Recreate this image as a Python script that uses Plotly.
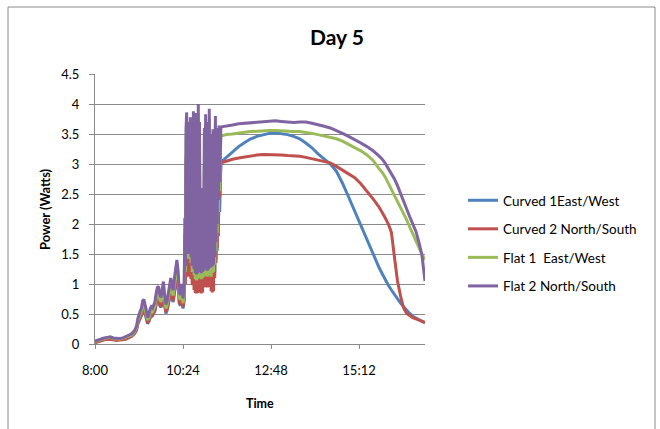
import plotly.graph_objects as go

# Sample times (HH:MM)
TIMES = [
    "08:00", "08:05", "08:10", "08:15", "08:20", "08:25", "08:30", "08:35", "08:40", "08:45",
    "08:50", "08:55", "09:00", "09:05",
    "09:08", "09:10", "09:12", "09:14", "09:16", "09:18", "09:20", "09:22", "09:24", "09:26",
    "09:28", "09:30", "09:32", "09:34", "09:36", "09:38", "09:40", "09:42", "09:44", "09:46",
    "09:48", "09:50", "09:52", "09:54", "09:56", "09:58", "10:00", "10:02", "10:04", "10:06",
    "10:08", "10:10", "10:12", "10:14", "10:16", "10:18", "10:20", "10:22", "10:24", "10:26",
    "10:27", "10:28", "10:29", "10:30", "10:31", "10:32", "10:33", "10:34", "10:35", "10:36",
    "10:37", "10:38", "10:39", "10:40", "10:41", "10:42", "10:43", "10:44", "10:45", "10:46",
    "10:47", "10:48", "10:49", "10:50", "10:51", "10:52", "10:53", "10:54", "10:55", "10:56",
    "10:57", "10:58", "10:59", "11:00", "11:01", "11:02", "11:03", "11:04", "11:05", "11:06",
    "11:07", "11:08", "11:09", "11:10", "11:11", "11:12", "11:13", "11:14", "11:15", "11:16",
    "11:17", "11:18", "11:19", "11:20", "11:21", "11:22", "11:23", "11:24", "11:25", "11:26",
    "11:27", "11:35", "11:45", "11:55", "12:05", "12:15", "12:25", "12:35", "12:45", "12:55",
    "13:05", "13:15", "13:25", "13:35", "13:45", "13:55", "14:05", "14:15", "14:25", "14:35",
    "14:45", "14:55", "15:05", "15:15", "15:25", "15:35", "15:45", "15:50", "15:55", "16:00",
    "16:05", "16:10", "16:15", "16:20", "16:25", "16:30", "16:35", "16:40", "16:45", "16:50",
    "16:55", "17:00",
]

CURVED_1_EW = [
    0.03, 0.05, 0.07, 0.08, 0.09, 0.09, 0.08, 0.07, 0.07, 0.08,
    0.09, 0.11, 0.13, 0.18,
    0.23, 0.33, 0.39, 0.43, 0.47, 0.56, 0.58, 0.51, 0.44, 0.34,
    0.37, 0.45, 0.48, 0.47, 0.51, 0.55, 0.66, 0.73, 0.75, 0.64,
    0.61, 0.75, 0.81, 0.64, 0.51, 0.56, 0.67, 0.80, 0.86, 0.75,
    0.70, 0.86, 0.97, 1.09, 0.95, 0.67, 0.64, 0.78, 0.59, 0.74,
    1.65, 1.10, 3.00, 3.22, 1.30, 3.08, 1.28, 2.92, 1.30, 3.16,
    1.22, 2.67, 1.10, 3.12, 3.24, 1.05, 2.84, 1.00, 3.20, 0.98,
    3.00, 1.00, 3.34, 1.02, 3.08, 1.02, 2.16, 1.00, 2.12, 1.02,
    2.16, 1.04, 3.00, 1.06, 3.20, 1.07, 2.75, 1.05, 3.08, 1.07,
    3.27, 1.08, 2.92, 1.06, 2.42, 1.10, 2.98, 1.12, 2.67, 1.20,
    3.16, 1.40, 2.84, 1.55, 3.00, 1.80, 3.02, 2.20, 2.92, 3.02,
    3.04, 3.11, 3.20, 3.29, 3.36, 3.42, 3.46, 3.49, 3.51, 3.52,
    3.51, 3.49, 3.46, 3.42, 3.35, 3.27, 3.17, 3.09, 3.00, 2.88,
    2.68, 2.45, 2.21, 1.97, 1.73, 1.49, 1.27, 1.17, 1.07, 0.98,
    0.90, 0.82, 0.75, 0.68, 0.62, 0.56, 0.51, 0.46, 0.43, 0.40,
    0.37, 0.35,
]

CURVED_2_NS = [
    0.02, 0.04, 0.06, 0.07, 0.08, 0.08, 0.07, 0.06, 0.06, 0.07,
    0.08, 0.10, 0.13, 0.18,
    0.24, 0.34, 0.40, 0.44, 0.48, 0.58, 0.59, 0.53, 0.45, 0.35,
    0.38, 0.46, 0.50, 0.48, 0.53, 0.56, 0.67, 0.75, 0.77, 0.66,
    0.62, 0.77, 0.83, 0.66, 0.53, 0.58, 0.69, 0.82, 0.88, 0.77,
    0.72, 0.88, 1.00, 1.12, 0.98, 0.69, 0.66, 0.80, 0.61, 0.76,
    1.70, 1.00, 3.02, 3.24, 1.14, 3.10, 1.12, 2.94, 1.14, 3.18,
    1.08, 2.69, 0.98, 3.15, 3.26, 0.90, 2.86, 0.85, 3.23, 0.84,
    3.02, 0.85, 3.36, 0.86, 3.11, 0.86, 2.18, 0.84, 2.14, 0.86,
    2.18, 0.94, 3.02, 0.95, 3.22, 0.96, 2.77, 0.94, 3.11, 0.95,
    3.29, 0.96, 2.94, 0.88, 2.44, 0.86, 3.01, 0.88, 2.69, 1.10,
    3.19, 1.35, 2.86, 1.60, 3.02, 1.95, 3.06, 2.45, 3.00, 3.02,
    3.02, 3.05, 3.08, 3.10, 3.12, 3.14, 3.15, 3.16, 3.16, 3.16,
    3.15, 3.14, 3.14, 3.13, 3.11, 3.09, 3.07, 3.05, 3.02, 2.96,
    2.90, 2.84, 2.77, 2.67, 2.55, 2.42, 2.28, 2.20, 2.10, 2.00,
    1.86, 1.45, 1.05, 0.80, 0.60, 0.51, 0.47, 0.44, 0.42, 0.40,
    0.38, 0.36,
]

FLAT_1_EW = [
    0.04, 0.06, 0.08, 0.09, 0.10, 0.11, 0.09, 0.08, 0.08, 0.09,
    0.11, 0.13, 0.15, 0.21,
    0.27, 0.38, 0.45, 0.50, 0.54, 0.65, 0.67, 0.59, 0.50, 0.40,
    0.43, 0.52, 0.56, 0.54, 0.59, 0.63, 0.76, 0.85, 0.86, 0.74,
    0.70, 0.86, 0.94, 0.74, 0.59, 0.65, 0.77, 0.92, 0.99, 0.86,
    0.81, 0.99, 1.12, 1.26, 1.10, 0.77, 0.74, 0.90, 0.68, 0.86,
    1.85, 1.20, 3.45, 3.72, 1.45, 3.55, 1.42, 3.38, 1.45, 3.64,
    1.35, 3.08, 1.20, 3.60, 3.72, 1.15, 3.25, 1.08, 3.70, 1.06,
    3.45, 1.08, 3.84, 1.10, 3.55, 1.10, 2.48, 1.08, 2.45, 1.10,
    2.48, 1.12, 3.45, 1.13, 3.68, 1.14, 3.16, 1.12, 3.55, 1.14,
    3.76, 1.15, 3.36, 1.12, 2.78, 1.18, 3.44, 1.20, 3.07, 1.32,
    3.64, 1.55, 3.26, 1.85, 3.45, 2.20, 3.49, 2.55, 3.45, 3.46,
    3.47, 3.49, 3.50, 3.52, 3.53, 3.54, 3.55, 3.55, 3.56, 3.56,
    3.55, 3.55, 3.54, 3.54, 3.53, 3.51, 3.49, 3.47, 3.45, 3.42,
    3.38, 3.33, 3.28, 3.22, 3.15, 3.06, 2.92, 2.86, 2.78, 2.68,
    2.57, 2.48, 2.37, 2.27, 2.17, 2.07, 1.95, 1.83, 1.72, 1.60,
    1.50, 1.40,
]

FLAT_2_NS = [
    0.05, 0.07, 0.09, 0.10, 0.11, 0.12, 0.10, 0.09, 0.09, 0.10,
    0.12, 0.14, 0.17, 0.23,
    0.30, 0.42, 0.50, 0.55, 0.60, 0.72, 0.74, 0.66, 0.56, 0.44,
    0.48, 0.58, 0.62, 0.60, 0.66, 0.70, 0.84, 0.94, 0.96, 0.82,
    0.78, 0.96, 1.04, 0.82, 0.66, 0.72, 0.86, 1.02, 1.10, 0.96,
    0.90, 1.10, 1.25, 1.40, 1.22, 0.86, 0.82, 1.00, 0.76, 0.95,
    2.10, 1.30, 3.60, 3.86, 1.55, 3.70, 1.50, 3.50, 1.55, 3.78,
    1.45, 3.20, 1.30, 3.75, 3.88, 1.25, 3.40, 1.18, 3.85, 1.16,
    3.60, 1.18, 4.00, 1.20, 3.70, 1.20, 2.60, 1.18, 2.55, 1.20,
    2.60, 1.22, 3.60, 1.24, 3.83, 1.25, 3.30, 1.22, 3.70, 1.25,
    3.92, 1.27, 3.50, 1.28, 2.90, 1.30, 3.58, 1.32, 3.20, 1.45,
    3.80, 1.70, 3.40, 2.00, 3.60, 2.40, 3.64, 2.70, 3.60, 3.61,
    3.62, 3.63, 3.65, 3.67, 3.68, 3.69, 3.70, 3.71, 3.72, 3.72,
    3.71, 3.70, 3.69, 3.70, 3.70, 3.68, 3.66, 3.63, 3.60, 3.56,
    3.51, 3.46, 3.41, 3.35, 3.29, 3.22, 3.13, 3.08, 3.01, 2.93,
    2.84, 2.75, 2.64, 2.50, 2.38, 2.25, 2.12, 2.00, 1.88, 1.70,
    1.48, 1.05,
]

SERIES_NAMES = ["Curved 1East/West", "Curved 2 North/South", "Flat 1  East/West", "Flat 2 North/South"]
SERIES_COLORS = ["#4F81BD", "#C0504D", "#9BBB59", "#8064A2"]
X_TICK_START = "2000-01-01 08:00"
X_RANGE = ["2000-01-01 08:00", "2000-01-01 17:00"]

day = "2000-01-01 "
x_vals = [day + t for t in TIMES]

fig = go.Figure()
for i, (name, color, vals) in enumerate(zip(SERIES_NAMES, SERIES_COLORS,
                                             [CURVED_1_EW, CURVED_2_NS, FLAT_1_EW, FLAT_2_NS])):
    fig.add_trace(go.Scatter(
        x=x_vals, y=vals, mode="lines", name=name,
        legendgroup=f"g{i}",
        line=dict(color=color, width=3),
    ))

W, H = 660, 429
L, R, T, B = 95, 235, 74, 85

fig.update_layout(
    width=W, height=H,
    margin=dict(l=L, r=R, t=T, b=B, pad=0),
    paper_bgcolor="white", plot_bgcolor="white",
    font=dict(family="Lato, Carlito, sans-serif", size=13, color="black"),
    title=dict(text="<b>Day 5</b>", x=337 / W, xref="container", xanchor="center",
               y=1 - 38 / H, yref="container", yanchor="middle",
               font=dict(size=21, family="Lato, sans-serif", color="black")),
    showlegend=True,
    legend=dict(xref="container", yref="container", x=463 / W, y=1 - 185 / H,
                xanchor="left", yanchor="top", tracegroupgap=8,
                font=dict(size=13.5, family="Lato, sans-serif"),
                bgcolor="rgba(0,0,0,0)"),
    xaxis=dict(type="date", range=X_RANGE, tick0=X_TICK_START, dtick=144 * 60 * 1000,
               tickformat="%-H:%M", showgrid=False, showline=True, linecolor="#8a8a8a",
               linewidth=1, ticks="outside", ticklen=4, tickcolor="#8a8a8a",
               ticklabelstandoff=10, zeroline=False,
               tickfont=dict(size=13)),
    yaxis=dict(range=[0, 4.5], dtick=0.5, tick0=0, showgrid=True, gridcolor="#8a8a8a",
               gridwidth=1, showline=True, linecolor="#8a8a8a", linewidth=1,
               ticks="outside", ticklen=5, tickcolor="#8a8a8a", ticklabelstandoff=7,
               zeroline=False, tickfont=dict(size=13)),
    annotations=[
        dict(text="<b>Power (Watts)</b>", xref="paper", yref="paper",
             x=(45 - L) / (W - L - R), y=0.5, textangle=-90, showarrow=False,
             xanchor="center", yanchor="middle", font=dict(size=13)),
        dict(text="<b>Time</b>", xref="paper", yref="paper",
             x=0.5, y=-(403 - (H - B)) / (H - T - B), showarrow=False,
             xanchor="center", yanchor="middle", font=dict(size=12.5)),
    ],
    shapes=[
        dict(type="rect", xref="paper", yref="paper",
             x0=(8 - L) / (W - L - R), x1=(655 - L) / (W - L - R),
             y0=-(445 - (H - B)) / (H - T - B), y1=((H - B) - 7) / (H - T - B),
             line=dict(color="#8a8a8a", width=1), fillcolor="rgba(0,0,0,0)", layer="below"),
    ],
)

fig.write_html("out.html")
